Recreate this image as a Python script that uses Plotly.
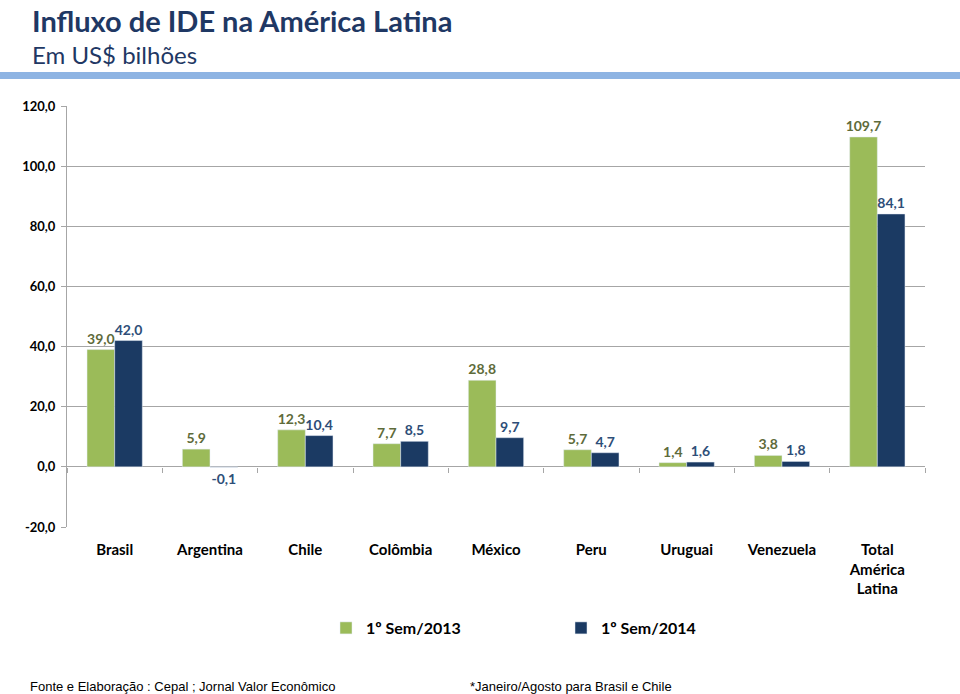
import plotly.graph_objects as go

categories = ["Brasil", "Argentina", "Chile", "Colômbia", "México", "Peru", "Uruguai", "Venezuela", "Total<br>América<br>Latina"]
sem2013 = [39.0, 5.9, 12.3, 7.7, 28.8, 5.7, 1.4, 3.8, 109.7]
sem2014 = [42.0, -0.1, 10.4, 8.5, 9.7, 4.7, 1.6, 1.8, 84.1]
ytick_vals = [-20, 0, 20, 40, 60, 80, 100, 120]
ytick_text = ["-20,0", "0,0", "20,0", "40,0", "60,0", "80,0", "100,0", "120,0"]

def fmt(v):
    return f"{v:.1f}".replace(".", ",")

GREEN = "#9BBB59"
NAVY = "#1B3A63"
FONT = "Lato"
W, H = 960, 694
L, R, T, B = 67, 35, 106, 167
PW, PH = W - L - R, H - T - B

def px_x(x):
    return (x - L) / PW

def px_y(y):
    return (H - B - y) / PH

fig = go.Figure()
fig.add_trace(go.Bar(
    x=categories, y=sem2013, name="1º Sem/2013", marker_color=GREEN,
    text=[fmt(v) for v in sem2013], textposition="outside", cliponaxis=False,
    constraintext="none",
    textfont=dict(family=FONT, size=14, color="#5E6B3A", weight="bold"),
))
fig.add_trace(go.Bar(
    x=categories, y=sem2014, name="1º Sem/2014", marker_color=NAVY,
    text=[fmt(v) for v in sem2014], textposition="outside", cliponaxis=False,
    constraintext="none",
    textfont=dict(family=FONT, size=14, color="#2E4E78", weight="bold"),
))
# invisible helper trace for the category separator ticks on the zero line
fig.add_trace(go.Scatter(x=categories, y=[0] * len(categories), mode="none", xaxis="x2",
                         showlegend=False, hoverinfo="skip"))

fig.update_layout(
    width=W, height=H,
    margin=dict(l=L, r=R, t=T, b=B, autoexpand=False),
    paper_bgcolor="white", plot_bgcolor="white",
    barmode="group", bargap=0.42, bargroupgap=0,
    font=dict(family=FONT, color="black"),
    showlegend=True,
    legend=dict(orientation="h", xref="paper", x=px_x(326), xanchor="left",
                yref="container", y=1 - 611 / H, yanchor="top",
                font=dict(family=FONT, size=16, color="black", weight="bold"),
                entrywidth=190, itemwidth=30, traceorder="normal"),
    xaxis=dict(tickfont=dict(family=FONT, size=15, color="black", weight="bold"), showline=False,
               ticks="", showgrid=False, automargin=False, ticklabelstandoff=12),
    xaxis2=dict(matches="x", overlaying="x", anchor="free", position=20 / 140,
                ticks="outside", tickson="boundaries", ticklen=5, tickcolor="#A6A6A6",
                showticklabels=False, showgrid=False, showline=False),
    yaxis=dict(range=[-20, 120], tickvals=ytick_vals, ticktext=ytick_text,
               tickfont=dict(family=FONT, size=13, color="black", weight="bold"),
               showgrid=True, gridcolor="#A6A6A6", gridwidth=1,
               zeroline=True, zerolinecolor="#A6A6A6", zerolinewidth=1,
               showline=True, linecolor="#A6A6A6", ticks="outside", ticklen=5,
               tickcolor="#A6A6A6", automargin=False, ticklabelstandoff=3),
)

# header and footer
fig.add_annotation(text="<b>Influxo de IDE na América Latina</b>", xref="paper", yref="paper",
                   x=px_x(30), y=px_y(1), xanchor="left", yanchor="top",
                   showarrow=False, font=dict(family=FONT, size=29, color="#1F3864"))
fig.add_annotation(text="Em US$ bilhões", xref="paper", yref="paper",
                   x=px_x(30), y=px_y(54), xanchor="left", yanchor="middle",
                   showarrow=False, font=dict(family=FONT, size=24, color="#1F3864"))
fig.add_shape(type="rect", xref="paper", yref="paper", x0=px_x(0), x1=px_x(W),
              y0=px_y(79), y1=px_y(72), fillcolor="#8EB4E3", line_width=0)
fig.add_annotation(text="Fonte e Elaboração : Cepal ; Jornal Valor Econômico", xref="paper", yref="paper",
                   x=px_x(28), y=px_y(686), xanchor="left", yanchor="middle",
                   showarrow=False, font=dict(family="Liberation Sans Narrow, Arial", size=13, color="black"))
fig.add_annotation(text="*Janeiro/Agosto para Brasil e Chile", xref="paper", yref="paper",
                   x=px_x(468), y=px_y(686), xanchor="left", yanchor="middle",
                   showarrow=False, font=dict(family="Liberation Sans Narrow, Arial", size=13, color="black"))

fig.write_html("out.html")
